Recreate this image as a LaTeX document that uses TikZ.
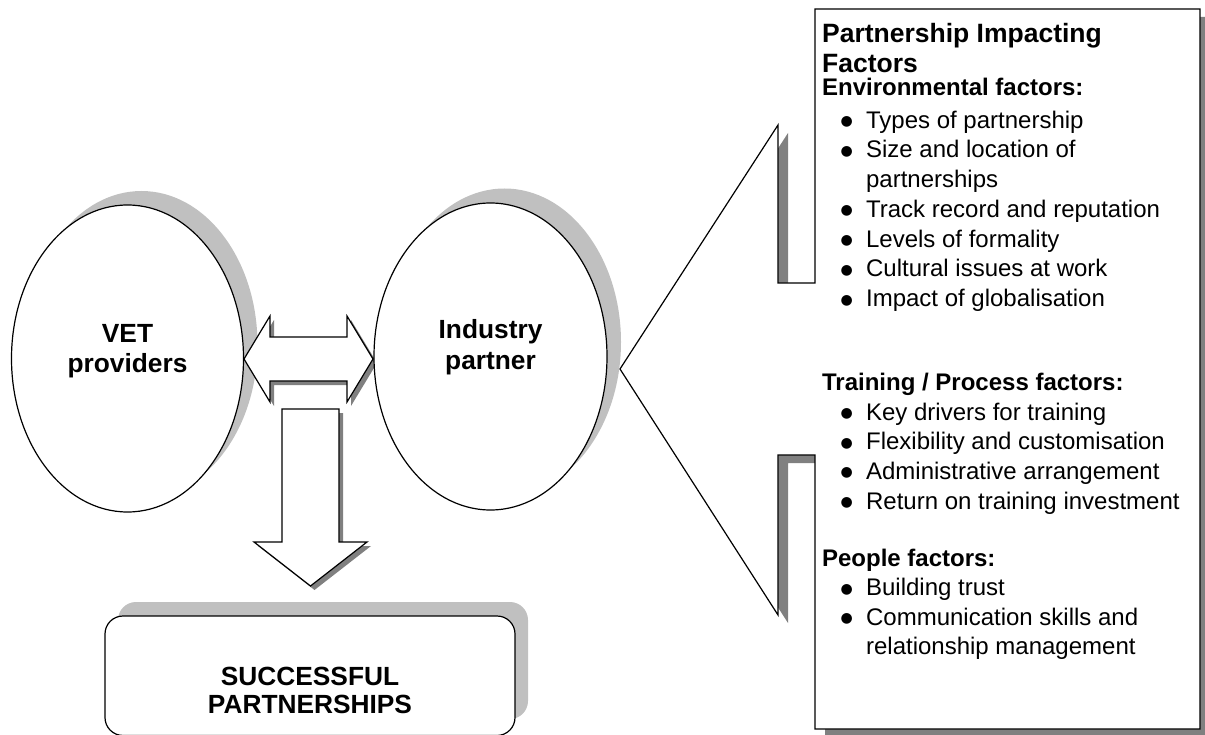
\documentclass[tikz,border=0pt]{standalone}
\usepackage{fontspec}
\setmainfont{Liberation Sans}
\newfontfamily\dotfont{DejaVu Sans}
\usetikzlibrary{shapes.geometric}
\definecolor{shadelight}{HTML}{C0C0C0}
\definecolor{shadedark}{HTML}{808080}
\begin{document}
\begin{tikzpicture}[x=1pt, y=-1pt, line width=1.2pt, line join=miter,
  oval/.style={ellipse, draw, fill=white, minimum width=232pt, minimum height=307pt, inner sep=0pt},
  bigtext/.style={font=\fontsize{26.3}{30}\selectfont\bfseries, anchor=base, inner sep=0pt},
  titletext/.style={font=\fontsize{26.5}{30}\selectfont\bfseries, anchor=base west, inner sep=0pt},
  headtext/.style={font=\fontsize{24}{29}\selectfont\bfseries, anchor=base west, inner sep=0pt},
  itemtext/.style={font=\fontsize{24}{29}\selectfont, anchor=base west, inner sep=0pt},
  bulletdot/.style={font=\dotfont\fontsize{14}{15}\selectfont, anchor=base, inner sep=0pt, yshift=2.5pt},
  blockarrow/.style={draw, fill=white},
]
\useasboundingbox (0,0) rectangle (1205,735);

% ---- VET providers ----
\fill[shadelight] (141.5,344.5) ellipse [x radius=116pt, y radius=153.5pt];
\node[oval] (vet) at (127.5,358.5) {};
\node[bigtext] (vet1) at (127.5,343) {VET};
\node[bigtext] (vet2) at (127.5,373) {providers};

% ---- two-way block arrow ----
\fill[shadedark] (248,363) -- (274,320) -- (274,341) -- (351,341) -- (351,320)
  -- (377,363) -- (351,406) -- (351,385) -- (274,385) -- (274,406) -- cycle;
\draw[blockarrow] (244,359) -- (270,316) -- (270,337) -- (347,337) -- (347,316)
  -- (373,359) -- (347,402) -- (347,381) -- (270,381) -- (270,402) -- cycle;

% ---- Industry partner ----
\fill[shadelight] (504.5,342) ellipse [x radius=116.5pt, y radius=153.5pt];
\node[oval, minimum width=233pt] (ind) at (490.5,356.5) {};
\node[bigtext] (ind1) at (490.5,339) {Industry};
\node[bigtext] (ind2) at (490.5,369) {partner};

% ---- downward block arrow ----
\fill[shadedark] (286,413) -- (343,413) -- (343,546) -- (371,546) -- (314.5,590)
  -- (258,546) -- (286,546) -- cycle;
\draw[blockarrow] (282,409) -- (339,409) -- (339,542) -- (367,542) -- (310.5,586)
  -- (254,542) -- (282,542) -- cycle;

% ---- result box ----
\fill[shadelight, rounded corners=18pt] (118,602) rectangle (528,719);
\draw[fill=white, rounded corners=18pt] (105,616) rectangle (515,735.5);
\node[bigtext] (res1) at (310,685) {SUCCESSFUL};
\node[bigtext] (res2) at (310,713) {PARTNERSHIPS};

% ---- callout with the factors ----
\fill[shadedark] (825,17) -- (1210,17) -- (1210,737) -- (825,737) -- (825,463)
  -- (788,463) -- (788,623) -- (630,377) -- (788,133) -- (788,291) -- (825,291) -- cycle;
\draw[fill=white] (815,9) -- (1200,9) -- (1200,729) -- (815,729) -- (815,455)
  -- (778,455) -- (778,615) -- (620,369) -- (778,125) -- (778,283) -- (815,283) -- cycle;

\node[titletext] (ttl1) at (821.5,42.7) {Partnership Impacting};
\node[titletext] (ttl2) at (821.5,72.7) {Factors};
\node[headtext] (envh) at (821.5,95.7) {Environmental factors:};
\foreach \n/\y/\t in {1/128.3/Types of partnership,
                      2/158/Size and location of,
                      3/217.5/Track record and reputation,
                      4/247.2/Levels of formality,
                      5/277/Cultural issues at work,
                      6/306.7/Impact of globalisation,
                      7/420/Key drivers for training,
                      8/449.7/Flexibility and customisation,
                      9/479.4/Administrative arrangement,
                      10/509.1/Return on training investment,
                      11/595.5/Building trust,
                      12/625.2/Communication skills and}{
  \node[bulletdot] (dot\n) at (846.7,\y) {●};
  \node[itemtext] (item\n) at (865.5,\y) {\t};
}
\node[itemtext] (item2b) at (865.5,187.8) {partnerships};
\node[itemtext] (item12b) at (865.5,654.9) {relationship management};
\node[headtext] (trah) at (821.5,390.7) {Training / Process factors:};
\node[headtext] (peoh) at (821.5,566) {People factors:};
\end{tikzpicture}
\end{document}
